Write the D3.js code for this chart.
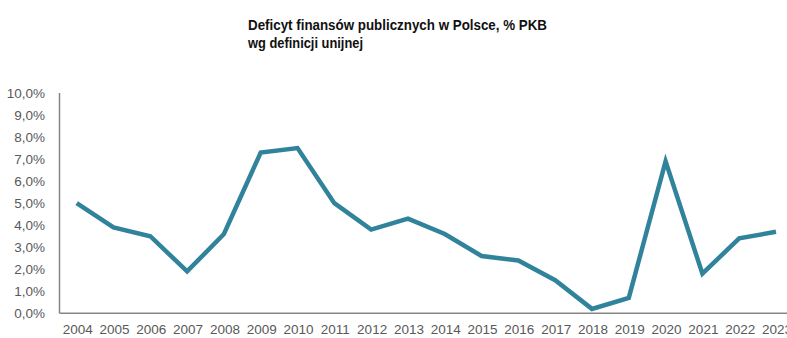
<!DOCTYPE html>
<html><head><meta charset="utf-8">
<script src="https://cdn.jsdelivr.net/npm/d3@7"></script>
<style>body{margin:0;background:#fff}svg{display:block}</style>
</head><body>
<svg id="c" width="787" height="338"></svg>
<script>
const years = ["2004","2005","2006","2007","2008","2009","2010","2011","2012","2013","2014","2015","2016","2017","2018","2019","2020","2021","2022","2023"];
const deficit = [5.0,3.9,3.5,1.9,3.6,7.3,7.5,5.0,3.8,4.3,3.6,2.6,2.4,1.5,0.2,0.7,6.9,1.8,3.4,3.7];
const yTicks = [0,1,2,3,4,5,6,7,8,9,10];
const titleLines = ["Deficyt finansów publicznych w Polsce, % PKB","wg definicji unijnej"];

const svg = d3.select("#c");
const x = d3.scalePoint().domain(years).range([76.7, 776]);
const y = d3.scaleLinear().domain([0,10]).range([313.3, 93]);
const font = "Liberation Sans, Arial, sans-serif";

// title
const t = svg.append("text").attr("font-family", font).attr("font-weight","bold").attr("font-size",14.5).attr("fill","#111");
titleLines.forEach((s,i)=>{
  t.append("tspan").attr("x",248).attr("y",30+i*17.5).text(s)
   .attr("textLength", i===0?299:115).attr("lengthAdjust","spacingAndGlyphs");
});

// y axis labels
const fmt = v => v.toFixed(1).replace(".",",") + "%";
svg.append("g").selectAll("text").data(yTicks).join("text")
  .attr("x",45).attr("y",d=>y(d)+5).attr("text-anchor","end")
  .attr("font-family",font).attr("font-size",13.5).attr("fill","#595959").text(fmt);

// axis lines
svg.append("line").attr("x1",59.5).attr("x2",59.5).attr("y1",y(10)).attr("y2",y(0)).attr("stroke","#868686").attr("stroke-width",1.5);
svg.append("line").attr("x1",59.5).attr("x2",787).attr("y1",y(0)).attr("y2",y(0)).attr("stroke","#868686").attr("stroke-width",1.5);

// x labels
svg.append("g").selectAll("text").data(years).join("text")
  .attr("x",d=>x(d)+1).attr("y",334).attr("text-anchor","middle")
  .attr("font-family",font).attr("font-size",13.5).attr("fill","#595959").text(d=>d);

// line
const line = d3.line().x((d,i)=>x(years[i])).y(d=>y(d));
svg.append("path").datum(deficit).attr("d",line).attr("fill","none")
  .attr("stroke","#31839c").attr("stroke-width",4.5).attr("stroke-linejoin","miter").attr("stroke-linecap","butt");
</script>
</body></html>
